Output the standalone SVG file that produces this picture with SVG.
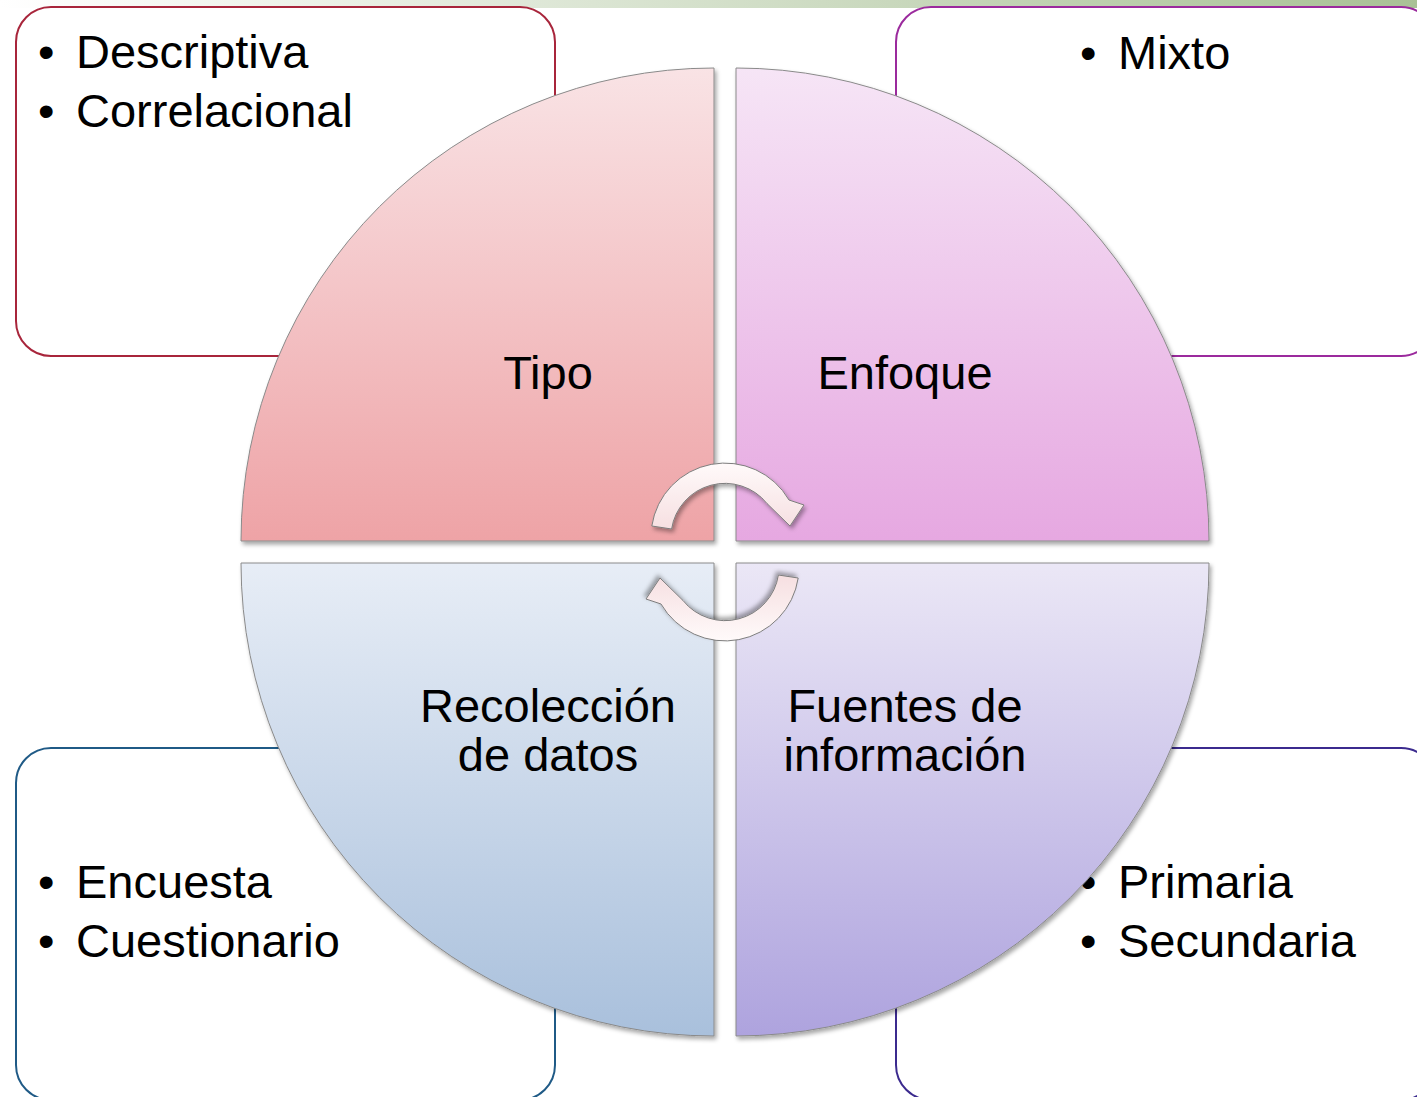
<svg xmlns="http://www.w3.org/2000/svg" width="1417" height="1097" viewBox="0 0 1417 1097">
<defs>
<linearGradient id="bar" x1="0" y1="0" x2="1" y2="0">
<stop offset="0" stop-color="#ffffff"/><stop offset="1" stop-color="#a9c196"/>
</linearGradient>
<linearGradient id="gTL" x1="0" y1="68" x2="0" y2="541" gradientUnits="userSpaceOnUse">
<stop offset="0" stop-color="#f9e3e5"/><stop offset="1" stop-color="#eea3a6"/>
</linearGradient>
<linearGradient id="gTR" x1="0" y1="68" x2="0" y2="541" gradientUnits="userSpaceOnUse">
<stop offset="0" stop-color="#f6e5f6"/><stop offset="1" stop-color="#e6a8e1"/>
</linearGradient>
<linearGradient id="gBL" x1="0" y1="563" x2="0" y2="1036" gradientUnits="userSpaceOnUse">
<stop offset="0" stop-color="#e7edf6"/><stop offset="1" stop-color="#a9c0dc"/>
</linearGradient>
<linearGradient id="gBR" x1="0" y1="563" x2="0" y2="1036" gradientUnits="userSpaceOnUse">
<stop offset="0" stop-color="#ebe7f6"/><stop offset="1" stop-color="#aea3de"/>
</linearGradient>
<linearGradient id="gArr" x1="0" y1="0" x2="0" y2="1">
<stop offset="0" stop-color="#fffafa"/><stop offset="1" stop-color="#f6dfe1"/>
</linearGradient>
<filter id="sh" x="-10%" y="-10%" width="120%" height="120%">
<feDropShadow dx="2" dy="3" stdDeviation="2" flood-color="#000" flood-opacity="0.35"/>
</filter>
</defs>
<style>
.box{fill:#ffffff;stroke-width:2}
.t{font-family:"Liberation Sans",Arial,sans-serif;font-size:47px;fill:#000}
.c{text-anchor:middle}
.q{stroke:#8a8a8a;stroke-width:1;filter:url(#sh)}
.arr{fill:url(#gArr);stroke:#7d7d7d;stroke-width:1;filter:url(#sh)}
</style>
<rect x="0" y="0" width="1417" height="8" fill="url(#bar)"/>
<g id="box-tipo">
<rect class="box" x="16" y="7" width="539" height="349" rx="35" stroke="#a8253b"/>
<text class="t" x="38" y="68">•</text><text class="t" x="76" y="68">Descriptiva</text>
<text class="t" x="38" y="127">•</text><text class="t" x="76" y="127">Correlacional</text>
</g>
<g id="box-enfoque">
<rect class="box" x="896" y="7" width="540" height="349" rx="35" stroke="#9b2a9d"/>
<text class="t" x="1080" y="69">•</text><text class="t" x="1118" y="69">Mixto</text>
</g>
<g id="box-recoleccion">
<rect class="box" x="16" y="748" width="539" height="352" rx="35" stroke="#1f5a86"/>
<text class="t" x="38" y="898">•</text><text class="t" x="76" y="898">Encuesta</text>
<text class="t" x="38" y="957">•</text><text class="t" x="76" y="957">Cuestionario</text>
</g>
<g id="box-fuentes">
<rect class="box" x="896" y="748" width="540" height="352" rx="35" stroke="#3b2a8e"/>
<text class="t" x="1080" y="898">•</text><text class="t" x="1118" y="898">Primaria</text>
<text class="t" x="1080" y="957">•</text><text class="t" x="1118" y="957">Secundaria</text>
</g>
<g id="q-tipo">
<path class="q" fill="url(#gTL)" d="M714 541 L241 541 A473 473 0 0 1 714 68 Z"/>
<text class="t c" x="548" y="389">Tipo</text>
</g>
<g id="q-enfoque">
<path class="q" fill="url(#gTR)" d="M736 541 L736 68 A473 473 0 0 1 1209 541 Z"/>
<text class="t c" x="905" y="389">Enfoque</text>
</g>
<g id="q-recoleccion">
<path class="q" fill="url(#gBL)" d="M714 563 L714 1036 A473 473 0 0 1 241 563 Z"/>
<text class="t c" x="548" y="722">Recolección</text>
<text class="t c" x="548" y="771">de datos</text>
</g>
<g id="q-fuentes">
<path class="q" fill="url(#gBR)" d="M736 563 L1209 563 A473 473 0 0 1 736 1036 Z"/>
<text class="t c" x="905" y="722">Fuentes de</text>
<text class="t c" x="905" y="771">información</text>
</g>
<g id="connectors">
<path class="arr" d="M651.8 526 A74 74 0 0 1 789 500 L804 505 L790 526 L767 503.5 A54 54 0 0 0 671.6 529 Z"/>
<path class="arr" transform="rotate(180 725 552)" d="M651.8 526 A74 74 0 0 1 789 500 L804 505 L790 526 L767 503.5 A54 54 0 0 0 671.6 529 Z"/>
</g>
</svg>
